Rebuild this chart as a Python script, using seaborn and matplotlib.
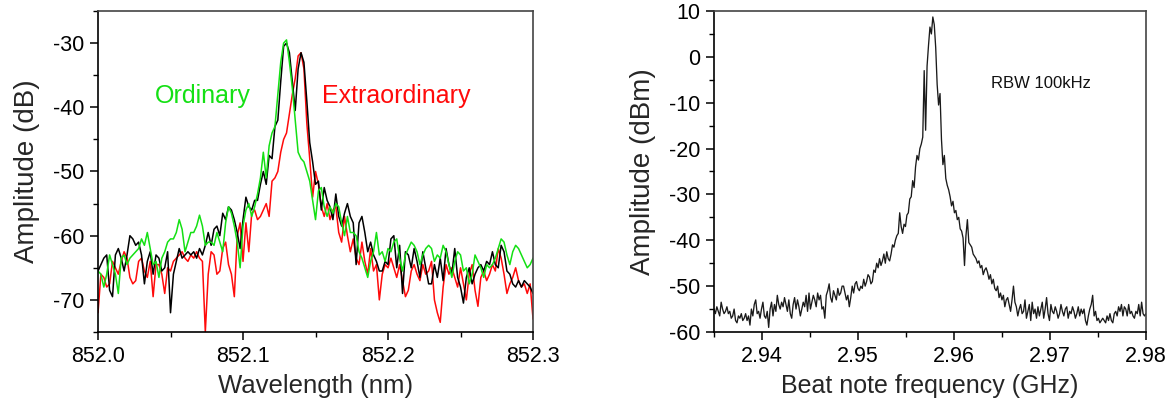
import numpy as np
import pandas as pd
import seaborn as sns
import matplotlib
matplotlib.use('Agg')
import matplotlib.pyplot as plt
from matplotlib.ticker import MultipleLocator, FormatStrFormatter

# ---------------------------------------------------------
# left panel: optical spectra, 852.000 .. 852.300 nm, step 0.002 nm
wl_start, wl_step = 852.0, 0.002

black_db = [
    -65.5, -64.5, -63.5, -63.0, -68.5, -69.5, -63.0, -62.0, -63.5, -65.5,
    -63.0, -60.0, -60.5, -61.5, -61.0, -63.0, -67.5, -64.0, -62.5, -66.0,
    -63.0, -63.5, -65.5, -65.0, -62.5, -72.0, -66.0, -64.0, -62.0, -63.5,
    -63.0, -62.5, -63.0, -62.5, -63.5, -62.0, -63.0, -61.5, -59.5, -61.5,
    -59.0, -58.5, -60.0, -56.5, -57.5, -55.5, -56.0, -57.5, -59.5, -62.0,
    -57.5, -54.0, -55.5, -56.0, -54.5, -54.5, -52.0, -50.0, -52.0, -47.5,
    -48.0, -43.0, -42.0, -36.0, -30.5, -30.0, -31.5, -36.0, -40.5, -34.0,
    -31.5, -33.0, -39.0, -45.5, -48.5, -52.0, -51.5, -56.0, -52.5, -54.5,
    -55.5, -57.5, -53.5, -57.0, -58.5, -56.5, -55.0, -57.0, -58.0, -64.5,
    -58.0, -57.0, -59.5, -62.5, -61.0, -63.0, -64.0, -65.5, -65.5, -64.0,
    -64.5, -60.5, -60.0, -65.0, -61.5, -69.0, -62.5, -63.0, -65.0, -62.0,
    -64.0, -66.5, -62.5, -65.0, -67.5, -67.5, -64.5, -66.5, -63.5, -67.0,
    -62.0, -64.5, -66.0, -62.0, -66.5, -68.0, -70.5, -66.5, -65.0, -67.5,
    -66.0, -65.0, -64.5, -65.5, -64.0, -64.5, -62.5, -64.5, -65.0, -61.5,
    -62.5, -65.5, -66.0, -67.5, -68.0, -67.0, -68.0, -67.0, -67.5, -68.0,
    -69.0,
]

green_db = [
    -65.5, -66.0, -68.0, -66.0, -63.0, -64.5, -66.0, -69.0, -63.5, -63.0,
    -64.5, -63.5, -63.0, -62.5, -62.0, -60.5, -61.5, -59.5, -62.0, -64.5,
    -64.0, -66.5, -63.5, -62.5, -61.0, -60.5, -60.5, -59.5, -57.5, -59.0,
    -62.5, -61.0, -59.5, -59.5, -58.5, -56.8, -58.5, -61.5, -61.0, -61.0,
    -61.5, -59.5, -61.0, -62.5, -58.0, -55.5, -56.5, -58.5, -61.0, -65.0,
    -58.5, -56.0, -55.0, -57.0, -55.5, -53.5, -51.0, -47.0, -51.0, -46.0,
    -44.0, -43.0, -38.0, -33.0, -30.0, -29.5, -33.0, -37.0, -42.0, -47.0,
    -48.0, -48.5, -50.0, -51.5, -54.5, -57.5, -53.0, -52.5, -55.5, -57.0,
    -55.5, -56.5, -55.0, -55.5, -58.0, -60.0, -57.0, -59.5, -59.5, -60.0,
    -62.5, -63.5, -65.0, -66.5, -64.0, -62.5, -59.5, -63.0, -62.5, -64.0,
    -62.0, -62.5, -61.0, -60.5, -63.5, -65.5, -63.0, -62.0, -61.0, -61.5,
    -62.5, -64.5, -63.0, -62.0, -61.5, -62.0, -64.0, -63.0, -63.5, -61.5,
    -62.5, -64.5, -66.5, -64.0, -62.5, -63.0, -65.5, -65.0, -67.5, -66.0,
    -63.0, -64.0, -65.0, -66.5, -64.5, -65.0, -64.5, -63.5, -62.0, -60.5,
    -61.0, -63.0, -64.5, -62.5, -61.5, -62.0, -63.0, -64.0, -65.0, -64.5,
    -63.5,
]

red_db = [
    -72.0, -66.0, -66.5, -68.0, -67.5, -64.0, -65.0, -66.0, -64.0, -62.5,
    -63.5, -66.5, -67.5, -67.0, -64.0, -63.5, -65.5, -66.5, -64.0, -69.5,
    -64.5, -64.5, -66.0, -69.0, -65.0, -65.5, -64.0, -63.5, -63.0, -62.5,
    -63.5, -64.0, -63.0, -63.5, -62.5, -63.5, -64.0, -75.0, -66.0, -62.5,
    -63.0, -66.0, -65.5, -62.0, -61.0, -64.5, -66.0, -69.5, -60.0, -58.0,
    -64.0, -58.0, -62.5, -56.5, -56.0, -57.5, -57.0, -56.0, -55.0, -57.0,
    -51.5, -51.0, -50.0, -47.0, -45.0, -44.0, -41.0, -38.0, -35.5, -32.0,
    -31.5, -34.0, -42.5, -48.0, -54.0, -50.0, -52.0, -55.5, -57.0, -55.0,
    -57.5, -56.0, -55.5, -59.5, -61.0, -57.0, -60.0, -62.5, -60.5, -63.5,
    -64.5, -61.0, -64.0, -66.0, -62.0, -65.5, -64.5, -70.0, -66.0, -64.5,
    -65.0, -63.5, -65.0, -66.5, -64.5, -67.0, -69.5, -68.5, -65.5, -64.5,
    -66.0, -67.0, -64.5, -66.0, -65.5, -64.0, -70.0, -72.0, -73.5, -68.0,
    -64.5, -66.0, -65.0, -66.5, -68.0, -65.0, -67.5, -70.0, -66.0, -64.5,
    -68.5, -71.0, -66.5, -65.5, -67.0, -66.0, -64.5, -65.5, -62.0, -63.5,
    -66.0, -69.0, -67.5, -66.5, -65.0, -67.0, -68.0, -67.5, -69.0, -67.5,
    -73.0,
]

# right panel: beat note, 2.935 .. 2.980 GHz, step 0.00015 GHz
f_start, f_step = 2.935, 0.00015

beat_dbm = [
    -55.0, -56.0, -54.5, -55.5, -56.5, -53.5, -55.0, -56.0, -55.5, -54.5,
    -56.0, -55.5, -57.0, -56.5, -55.0, -57.5, -58.0, -56.5, -57.0, -56.0,
    -57.5, -57.0, -56.0, -57.5, -56.5, -58.5, -55.0, -56.5, -54.0, -53.0,
    -56.0, -55.5, -57.0, -55.0, -53.5, -56.5, -57.0, -55.5, -59.0, -55.0,
    -53.5, -56.5, -54.0, -55.5, -52.0, -54.0, -55.0, -53.5, -54.5, -52.5,
    -54.0, -55.5, -53.0, -56.0, -57.0, -54.0, -52.5, -55.0, -53.0, -54.5,
    -56.5, -55.0, -53.5, -54.5, -52.0, -55.5, -51.5, -55.0, -53.5, -52.0,
    -53.0, -54.5, -51.5, -53.0, -52.0, -55.0, -54.5, -57.0, -52.0, -51.0,
    -49.5, -52.5, -53.5, -51.0, -52.0, -53.0, -50.5, -52.0, -51.5, -50.0,
    -50.0, -51.5, -53.0, -52.0, -54.5, -52.5, -50.0, -51.5, -49.5, -49.0,
    -50.5, -51.0, -50.0, -50.5, -48.5, -50.0, -49.0, -47.5, -48.0, -49.5,
    -49.0, -46.5, -47.0, -45.0, -46.0, -44.0, -45.5, -44.5, -43.0, -45.0,
    -42.5, -44.0, -44.5, -43.0, -41.0, -41.5, -40.0, -39.0, -38.5, -34.0,
    -37.0, -38.5, -36.5, -37.0, -34.5, -34.0, -31.0, -30.5, -27.0, -28.5,
    -24.0, -21.5, -22.5, -20.0, -19.0, -17.5, -3.0, -16.0, -2.0, 2.5,
    6.5, 5.0, 8.7, 7.0, 2.0, -6.0, -10.5, -8.0, -18.0, -23.5,
    -21.5, -26.5, -28.0, -29.0, -30.5, -32.5, -31.5, -34.0, -33.5, -35.5,
    -35.0, -37.5, -38.0, -39.5, -45.5, -39.0, -35.5, -40.5, -41.0, -41.5,
    -43.0, -43.5, -44.0, -45.0, -44.5, -46.0, -45.5, -47.5, -46.5, -46.0,
    -47.0, -48.5, -47.5, -49.5, -48.5, -50.5, -51.0, -50.0, -52.5, -51.5,
    -53.0, -52.0, -54.5, -53.0, -52.5, -54.0, -55.5, -53.0, -50.0, -53.5,
    -54.5, -56.5, -55.0, -54.0, -56.0, -55.5, -53.0, -57.0, -55.5, -54.0,
    -57.5, -53.5, -56.0, -55.0, -57.0, -54.5, -56.5, -55.0, -53.5, -57.0,
    -55.0, -52.5, -56.0, -57.5, -54.0, -55.5, -56.0, -54.5, -55.5, -57.0,
    -56.0, -54.0, -55.5, -56.5, -55.0, -54.5, -57.0, -55.5, -56.0, -54.5,
    -55.5, -57.0, -56.0, -54.5, -56.5, -55.0, -56.0, -55.0, -57.5, -58.5,
    -56.5, -55.0, -54.0, -52.0, -56.5, -55.5, -57.5, -57.0, -58.0, -57.5,
    -57.0, -57.5, -58.0, -56.5, -57.5, -56.0, -57.5, -58.0, -56.0, -55.5,
    -56.5, -54.5, -55.5, -54.0, -56.5, -54.5, -55.0, -56.5, -54.0, -56.0,
    -55.5, -56.5, -57.0, -55.5, -56.0, -54.0, -56.5, -53.5, -56.0, -56.5,
    -56.0,
]

# ---------------------------------------------------------
wl = wl_start + wl_step * np.arange(len(black_db))
df_spec = pd.concat([
    pd.DataFrame({'wl': wl, 'amp': red_db, 'trace': 'Extraordinary'}),
    pd.DataFrame({'wl': wl, 'amp': black_db, 'trace': 'Total'}),
    pd.DataFrame({'wl': wl, 'amp': green_db, 'trace': 'Ordinary'}),
])
freq = f_start + f_step * np.arange(len(beat_dbm))
df_beat = pd.DataFrame({'freq': freq, 'amp': beat_dbm})

sns.set_theme(style='ticks')
plt.rcParams['font.family'] = ['Liberation Sans', 'DejaVu Sans']
plt.rcParams['axes.unicode_minus'] = False  # plain hyphen minus like the original

green = '#14e014'
red = '#ff0a0a'
palette = {'Extraordinary': red, 'Total': 'black', 'Ordinary': green}

fig = plt.figure(figsize=(11.71, 4.03), dpi=100)
ax1 = fig.add_axes([0.0837, 0.1762, 0.3715, 0.7965])
ax2 = fig.add_axes([0.6097, 0.1762, 0.3689, 0.7965])

sns.lineplot(data=df_spec, x='wl', y='amp', hue='trace', palette=palette,
             estimator=None, sort=False, lw=1.1, legend=False, ax=ax1)
sns.lineplot(data=df_beat, x='freq', y='amp', color='#1a1a1a',
             estimator=None, sort=False, lw=0.95, ax=ax2)

ax1.set_xlim(852.0, 852.3)
ax1.set_ylim(-75, -25)
ax1.xaxis.set_major_locator(MultipleLocator(0.1))
ax1.xaxis.set_minor_locator(MultipleLocator(0.05))
ax1.xaxis.set_major_formatter(FormatStrFormatter('%.1f'))
ax1.yaxis.set_major_locator(MultipleLocator(10))
ax1.yaxis.set_minor_locator(MultipleLocator(5))
ax1.set_xlabel('Wavelength (nm)', fontsize=18.5, labelpad=5)
ax1.set_ylabel('Amplitude (dB)', fontsize=20, labelpad=9)
ax1.text(852.072, -38.3, 'Ordinary', color=green, fontsize=18,
         ha='center', va='center')
ax1.text(852.2055, -38.3, 'Extraordinary', color=red, fontsize=18,
         ha='center', va='center')

ax2.set_xlim(2.935, 2.98)
ax2.set_ylim(-60, 10)
ax2.xaxis.set_major_locator(MultipleLocator(0.01))
ax2.xaxis.set_minor_locator(MultipleLocator(0.005))
ax2.xaxis.set_major_formatter(FormatStrFormatter('%.2f'))
ax2.yaxis.set_major_locator(MultipleLocator(10))
ax2.yaxis.set_minor_locator(MultipleLocator(5))
ax2.set_xlabel('Beat note frequency (GHz)', fontsize=18, labelpad=5)
ax2.set_ylabel('Amplitude (dBm)', fontsize=20, labelpad=9)
ax2.text(2.9639, -5.75, 'RBW 100kHz', color='#111111', fontsize=12,
         ha='left', va='center')

for ax in (ax1, ax2):
    ax.tick_params(which='major', direction='out', length=6, width=1.1,
                   labelsize=15.5, color='black', labelcolor='black', pad=4)
    ax.tick_params(which='minor', direction='out', length=3.5, width=1.0,
                   color='black')
    ax.tick_params(top=False, right=False, which='both')
    for side in ('left', 'bottom'):
        ax.spines[side].set_color('black')
        ax.spines[side].set_linewidth(1.2)
    for side in ('top', 'right'):
        ax.spines[side].set_visible(True)
        ax.spines[side].set_color('#444444')
        ax.spines[side].set_linewidth(1.2)

plt.savefig('out.png', dpi=100)
